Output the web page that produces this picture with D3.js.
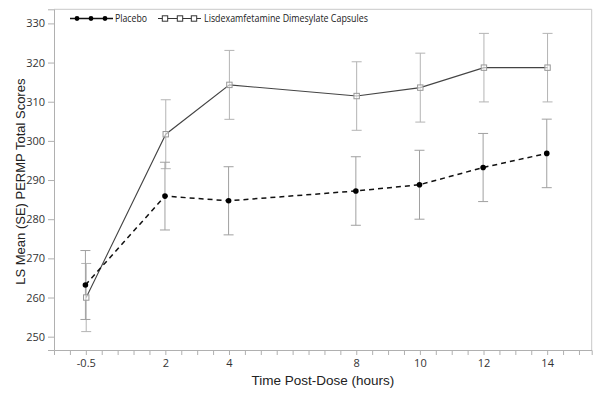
<!DOCTYPE html>
<html><head><meta charset="utf-8">
<script src="https://cdn.jsdelivr.net/npm/d3@7"></script>
<style>
html,body{margin:0;padding:0;background:#fff;}
svg{display:block;}
</style></head>
<body>
<svg id="chart" width="600" height="395"></svg>
<script>
const hours = [-0.5, 2, 4, 8, 10, 12, 14];
const tickLabels = ["-0.5", "2", "4", "8", "10", "12", "14"];
const placeboMean = [263.2, 285.9, 284.7, 287.2, 288.8, 293.2, 296.8];
const placeboSE   = [8.8, 8.65, 8.7, 8.75, 8.8, 8.7, 8.75];
const lisdexMean  = [260.0, 301.7, 314.3, 311.45, 313.6, 318.7, 318.7];
const lisdexSE    = [8.7, 8.8, 8.8, 8.75, 8.8, 8.75, 8.75];
const yTicks = [250, 260, 270, 280, 290, 300, 310, 320, 330];
const seriesNames = ["Placebo", "Lisdexamfetamine Dimesylate Capsules"];

const svg = d3.select("#chart");
const x = d3.scaleLinear().domain([-1.5, 15.4]).range([54, 591.7]);
const y = d3.scaleLinear().domain([246.6, 333.6]).range([350, 9.3]);

const tickFont = "'Open Sans', 'Noto Sans', sans-serif";
const titleFont = "'Liberation Sans', Arial, sans-serif";

// frame (top & right)
svg.append("path")
  .attr("d", `M${x.range()[0]},${y.range()[1]}H${x.range()[1]}V${y.range()[0]}`)
  .attr("fill", "none").attr("stroke", "#c8c8c8").attr("stroke-width", 1);

// y axis
const yAxis = svg.append("g").attr("transform", `translate(${x.range()[0]},0)`)
  .call(d3.axisLeft(y).tickValues(yTicks).tickSize(6).tickPadding(3).tickFormat(d3.format("d")));
yAxis.select(".domain").attr("stroke", "#b0b0b0");
yAxis.selectAll(".tick line").attr("stroke", "#b0b0b0");
yAxis.selectAll("text").attr("fill", "#333").style("font-family", tickFont).style("font-size", "11px");

// x axis: minor ticks every 0.5, labels at measured hours
const xTickVals = d3.range(-1, 15.01, 0.5);
const xAxis = svg.append("g").attr("transform", `translate(0,${y.range()[0]})`)
  .call(d3.axisBottom(x).tickValues(xTickVals).tickSize(5).tickPadding(4)
    .tickFormat(d => { const i = hours.indexOf(d); return i >= 0 ? tickLabels[i] : ""; }));
xAxis.select(".domain").attr("stroke", "#b0b0b0");
xAxis.selectAll(".tick line").attr("stroke", "#b0b0b0");
xAxis.selectAll("text").attr("fill", "#333").style("font-family", tickFont).style("font-size", "11px");

// axis titles
svg.append("text").attr("x", (x.range()[0] + x.range()[1]) / 2).attr("y", 385)
  .attr("text-anchor", "middle").attr("fill", "#222")
  .style("font-family", titleFont).style("font-size", "13.5px")
  .text("Time Post-Dose (hours)");
svg.append("text")
  .attr("transform", `translate(25,${(y.range()[0] + y.range()[1]) / 2 + 2}) rotate(-90)`)
  .attr("text-anchor", "middle").attr("fill", "#222")
  .style("font-family", titleFont).style("font-size", "13px")
  .text("LS Mean (SE) PERMP Total Scores");

const placebo = hours.map((h, i) => ({h, m: placeboMean[i], se: placeboSE[i]}));
const lisdex = hours.map((h, i) => ({h, m: lisdexMean[i], se: lisdexSE[i]}));
const dodgeP = -0.4, dodgeL = 0.4;

function errorBars(data, dodge, color) {
  const g = svg.append("g").attr("stroke", color).attr("stroke-width", 1).attr("fill", "none");
  data.forEach(d => {
    const cx = x(d.h) + dodge;
    g.append("line").attr("x1", cx).attr("x2", cx).attr("y1", y(d.m - d.se)).attr("y2", y(d.m + d.se));
    g.append("line").attr("x1", cx - 5).attr("x2", cx + 5).attr("y1", y(d.m - d.se)).attr("y2", y(d.m - d.se));
    g.append("line").attr("x1", cx - 5).attr("x2", cx + 5).attr("y1", y(d.m + d.se)).attr("y2", y(d.m + d.se));
  });
}
errorBars(lisdex, dodgeL, "#b4b4b4");
errorBars(placebo, dodgeP, "#a0a0a0");

const line = (dodge) => d3.line().x(d => x(d.h) + dodge).y(d => y(d.m));

// Lisdex line + squares
svg.append("path").datum(lisdex).attr("d", line(dodgeL))
  .attr("fill", "none").attr("stroke", "#444").attr("stroke-width", 1.1);
svg.selectAll(".sq").data(lisdex).join("rect").attr("class", "sq")
  .attr("x", d => x(d.h) + dodgeL - 2.7).attr("y", d => y(d.m) - 2.7)
  .attr("width", 5.4).attr("height", 5.4)
  .attr("fill", "#fff").attr("fill-opacity", 0.6).attr("stroke", "#999").attr("stroke-width", 1);

// Placebo dashed line + dots
svg.append("path").datum(placebo).attr("d", line(dodgeP))
  .attr("fill", "none").attr("stroke", "#111").attr("stroke-width", 1.5).attr("stroke-dasharray", "5,4");
svg.selectAll(".dot").data(placebo).join("circle").attr("class", "dot")
  .attr("cx", d => x(d.h) + dodgeP).attr("cy", d => y(d.m)).attr("r", 2.8).attr("fill", "#000");

// legend
const lg = svg.append("g");
const ly = 18.5;
lg.append("line").attr("x1", 70).attr("x2", 113).attr("y1", ly).attr("y2", ly).attr("stroke", "#111").attr("stroke-width", 1.3);
[77, 91, 105].forEach(cx => lg.append("circle").attr("cx", cx).attr("cy", ly).attr("r", 2.4).attr("fill", "#000"));
lg.append("text").attr("x", 115).attr("y", ly + 3.8).attr("fill", "#222")
  .attr("textLength", 32).attr("lengthAdjust", "spacingAndGlyphs")
  .style("font-family", tickFont).style("font-size", "10.5px").text(seriesNames[0]);
lg.append("line").attr("x1", 158).attr("x2", 201).attr("y1", ly).attr("y2", ly).attr("stroke", "#333").attr("stroke-width", 1.1);
[165, 180, 194].forEach(cx => lg.append("rect").attr("x", cx - 2.7).attr("y", ly - 2.7).attr("width", 5.4).attr("height", 5.4)
  .attr("fill", "#fff").attr("stroke", "#333").attr("stroke-width", 1));
lg.append("text").attr("x", 204).attr("y", ly + 3.8).attr("fill", "#222")
  .attr("textLength", 164).attr("lengthAdjust", "spacingAndGlyphs")
  .style("font-family", tickFont).style("font-size", "10.5px").text(seriesNames[1]);
</script>
</body></html>
